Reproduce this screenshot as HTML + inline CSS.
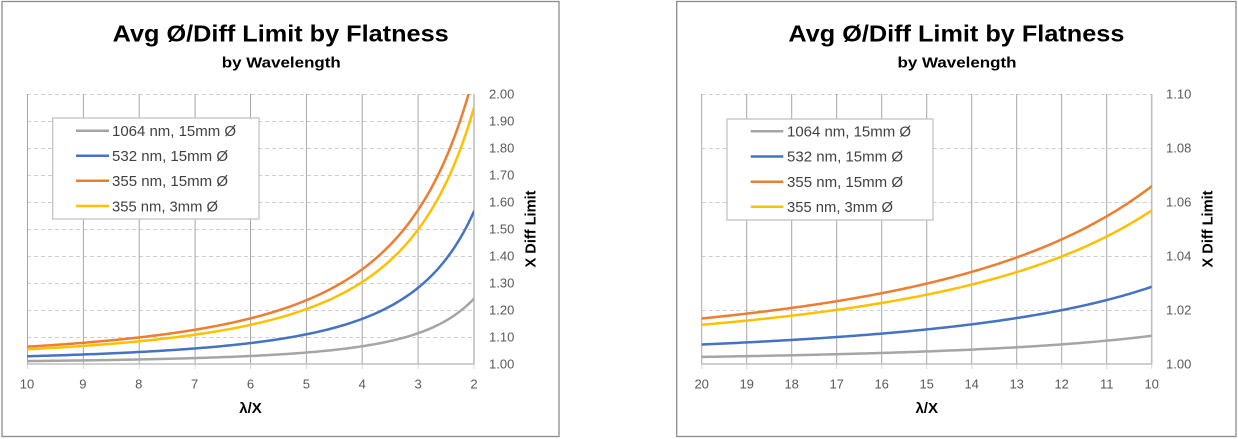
<!DOCTYPE html>
<html>
<head>
<meta charset="utf-8">
<style>
  html, body { margin: 0; padding: 0; background: #ffffff; }
  svg { display: block; }
  .ttl { font-family: "Liberation Sans", Arial, sans-serif; font-weight: bold; fill: #000; }
  .tick { font-family: "Liberation Sans", Arial, sans-serif; font-size: 13px; fill: #595959; }
  .leg { font-family: "Liberation Sans", Arial, sans-serif; font-size: 14.5px; fill: #404040; }
  .axt { font-family: "Liberation Sans", Arial, sans-serif; font-weight: bold; fill: #000; }
  .vg { stroke: #a6a6a6; stroke-width: 1; }
  .hg { stroke: #cfcfcf; stroke-width: 1; stroke-dasharray: 4 3; }
  .ax { stroke: #bfbfbf; stroke-width: 1.6; }
  .tk { stroke: #d9d9d9; stroke-width: 1; }
</style>
</head>
<body>
<svg id="s" width="1238" height="439" viewBox="0 0 1238 439" xmlns="http://www.w3.org/2000/svg">
  <defs>
    <clipPath id="cl"><rect x="27" y="94" width="447" height="270"/></clipPath>
    <clipPath id="cr"><rect x="701.7" y="94" width="450" height="270"/></clipPath>
  </defs>
  <rect x="0" y="0" width="1238" height="439" fill="#fff"/>

  <!-- ================= LEFT CHART ================= -->
  <rect x="2" y="1.5" width="557" height="435" fill="#fff" stroke="#8c8c8c" stroke-width="1.3"/>
  <text class="ttl" x="280.7" y="41.7" font-size="23" text-anchor="middle" textLength="336" lengthAdjust="spacingAndGlyphs">Avg Ø/Diff Limit by Flatness</text>
  <text class="ttl" x="281.3" y="67.7" font-size="14.5" text-anchor="middle" textLength="119" lengthAdjust="spacingAndGlyphs">by Wavelength</text>

  <!-- horizontal gridlines -->
  <g class="hg">
    <line x1="27" y1="94.5" x2="474" y2="94.5"/>
    <line x1="27" y1="121.5" x2="474" y2="121.5"/>
    <line x1="27" y1="148.5" x2="474" y2="148.5"/>
    <line x1="27" y1="175.5" x2="474" y2="175.5"/>
    <line x1="27" y1="202.5" x2="474" y2="202.5"/>
    <line x1="27" y1="229.5" x2="474" y2="229.5"/>
    <line x1="27" y1="256.5" x2="474" y2="256.5"/>
    <line x1="27" y1="283.5" x2="474" y2="283.5"/>
    <line x1="27" y1="310.5" x2="474" y2="310.5"/>
    <line x1="27" y1="337.5" x2="474" y2="337.5"/>
  </g>
  <!-- vertical gridlines -->
  <g class="vg">
    <line x1="27.5" y1="94" x2="27.5" y2="364"/>
    <line x1="83.4" y1="94" x2="83.4" y2="364"/>
    <line x1="139.2" y1="94" x2="139.2" y2="364"/>
    <line x1="195.1" y1="94" x2="195.1" y2="364"/>
    <line x1="250.5" y1="94" x2="250.5" y2="364"/>
    <line x1="306.4" y1="94" x2="306.4" y2="364"/>
    <line x1="362.2" y1="94" x2="362.2" y2="364"/>
    <line x1="418.1" y1="94" x2="418.1" y2="364"/>
  </g>
  <g class="tk">
    <line x1="27.5" y1="364" x2="27.5" y2="369"/>
    <line x1="83.4" y1="364" x2="83.4" y2="369"/>
    <line x1="139.2" y1="364" x2="139.2" y2="369"/>
    <line x1="195.1" y1="364" x2="195.1" y2="369"/>
    <line x1="250.5" y1="364" x2="250.5" y2="369"/>
    <line x1="306.4" y1="364" x2="306.4" y2="369"/>
    <line x1="362.2" y1="364" x2="362.2" y2="369"/>
    <line x1="418.1" y1="364" x2="418.1" y2="369"/>
    <line x1="474" y1="364" x2="474" y2="369"/>
  </g>
  <line class="ax" x1="27" y1="364" x2="474.5" y2="364"/>
  <line class="ax" x1="474" y1="94" x2="474" y2="364"/>

  <g id="curvesL" clip-path="url(#cl)" fill="none" stroke-width="2.5" stroke-linejoin="round" stroke-linecap="round"></g>

  <!-- y labels -->
  <g class="tick">
    <text x="489" y="98.5">2.00</text>
    <text x="489" y="125.5">1.90</text>
    <text x="489" y="152.5">1.80</text>
    <text x="489" y="179.5">1.70</text>
    <text x="489" y="206.5">1.60</text>
    <text x="489" y="233.5">1.50</text>
    <text x="489" y="260.5">1.40</text>
    <text x="489" y="287.5">1.30</text>
    <text x="489" y="314.5">1.20</text>
    <text x="489" y="341.5">1.10</text>
    <text x="489" y="368.5">1.00</text>
  </g>
  <!-- x labels -->
  <g class="tick" text-anchor="middle">
    <text x="27" y="388.5">10</text>
    <text x="82.9" y="388.5">9</text>
    <text x="138.8" y="388.5">8</text>
    <text x="194.6" y="388.5">7</text>
    <text x="250.5" y="388.5">6</text>
    <text x="306.4" y="388.5">5</text>
    <text x="362.3" y="388.5">4</text>
    <text x="418.1" y="388.5">3</text>
    <text x="474" y="388.5">2</text>
  </g>
  <text class="axt" x="250.5" y="413" font-size="15" text-anchor="middle">λ/X</text>
  <text class="axt" transform="translate(535.5,229) rotate(-90)" x="0" y="0" font-size="14.5" text-anchor="middle" textLength="77" lengthAdjust="spacingAndGlyphs">X Diff Limit</text>

  <!-- legend -->
  <rect x="52.7" y="118" width="206.3" height="101" fill="#fff" stroke="#bfbfbf" stroke-width="1.2"/>
  <line x1="76" y1="130.7" x2="109" y2="130.7" stroke="#a5a5a5" stroke-width="2.5"/>
  <line x1="76" y1="155.7" x2="109" y2="155.7" stroke="#4472c4" stroke-width="2.5"/>
  <line x1="76" y1="180.7" x2="109" y2="180.7" stroke="#ed7d31" stroke-width="2.5"/>
  <line x1="76" y1="206" x2="109" y2="206" stroke="#ffc000" stroke-width="2.5"/>
  <text class="leg" x="112" y="136" textLength="124" lengthAdjust="spacingAndGlyphs">1064 nm, 15mm Ø</text>
  <text class="leg" x="112" y="161" textLength="116" lengthAdjust="spacingAndGlyphs">532 nm, 15mm Ø</text>
  <text class="leg" x="112" y="186" textLength="116" lengthAdjust="spacingAndGlyphs">355 nm, 15mm Ø</text>
  <text class="leg" x="112" y="211.3" textLength="106" lengthAdjust="spacingAndGlyphs">355 nm, 3mm Ø</text>

  <!-- ================= RIGHT CHART ================= -->
  <rect x="676.7" y="1.5" width="559.3" height="435" fill="#fff" stroke="#8c8c8c" stroke-width="1.3"/>
  <text class="ttl" x="956.4" y="41.7" font-size="23" text-anchor="middle" textLength="336" lengthAdjust="spacingAndGlyphs">Avg Ø/Diff Limit by Flatness</text>
  <text class="ttl" x="957" y="67.7" font-size="14.5" text-anchor="middle" textLength="119" lengthAdjust="spacingAndGlyphs">by Wavelength</text>

  <g class="hg">
    <line x1="701.7" y1="94.5" x2="1151.7" y2="94.5"/>
    <line x1="701.7" y1="148.5" x2="1151.7" y2="148.5"/>
    <line x1="701.7" y1="202.5" x2="1151.7" y2="202.5"/>
    <line x1="701.7" y1="256.5" x2="1151.7" y2="256.5"/>
    <line x1="701.7" y1="310.5" x2="1151.7" y2="310.5"/>
  </g>
  <g class="vg">
    <line x1="701.7" y1="94" x2="701.7" y2="364"/>
    <line x1="746.7" y1="94" x2="746.7" y2="364"/>
    <line x1="791.7" y1="94" x2="791.7" y2="364"/>
    <line x1="836.7" y1="94" x2="836.7" y2="364"/>
    <line x1="881.7" y1="94" x2="881.7" y2="364"/>
    <line x1="926.7" y1="94" x2="926.7" y2="364"/>
    <line x1="971.7" y1="94" x2="971.7" y2="364"/>
    <line x1="1016.7" y1="94" x2="1016.7" y2="364"/>
    <line x1="1061.7" y1="94" x2="1061.7" y2="364"/>
    <line x1="1106.7" y1="94" x2="1106.7" y2="364"/>
  </g>
  <g class="tk">
    <line x1="701.7" y1="364" x2="701.7" y2="369"/>
    <line x1="746.7" y1="364" x2="746.7" y2="369"/>
    <line x1="791.7" y1="364" x2="791.7" y2="369"/>
    <line x1="836.7" y1="364" x2="836.7" y2="369"/>
    <line x1="881.7" y1="364" x2="881.7" y2="369"/>
    <line x1="926.7" y1="364" x2="926.7" y2="369"/>
    <line x1="971.7" y1="364" x2="971.7" y2="369"/>
    <line x1="1016.7" y1="364" x2="1016.7" y2="369"/>
    <line x1="1061.7" y1="364" x2="1061.7" y2="369"/>
    <line x1="1106.7" y1="364" x2="1106.7" y2="369"/>
    <line x1="1151.7" y1="364" x2="1151.7" y2="369"/>
  </g>
  <line class="ax" x1="701.7" y1="364" x2="1152.2" y2="364"/>
  <line class="ax" x1="1151.7" y1="94" x2="1151.7" y2="364"/>

  <g id="curvesR" clip-path="url(#cr)" fill="none" stroke-width="2.5" stroke-linejoin="round" stroke-linecap="round"></g>

  <g class="tick">
    <text x="1166" y="98.5">1.10</text>
    <text x="1166" y="152.5">1.08</text>
    <text x="1166" y="206.5">1.06</text>
    <text x="1166" y="260.5">1.04</text>
    <text x="1166" y="314.5">1.02</text>
    <text x="1166" y="368.5">1.00</text>
  </g>
  <g class="tick" text-anchor="middle">
    <text x="701.7" y="388.5">20</text>
    <text x="746.7" y="388.5">19</text>
    <text x="791.7" y="388.5">18</text>
    <text x="836.7" y="388.5">17</text>
    <text x="881.7" y="388.5">16</text>
    <text x="926.7" y="388.5">15</text>
    <text x="971.7" y="388.5">14</text>
    <text x="1016.7" y="388.5">13</text>
    <text x="1061.7" y="388.5">12</text>
    <text x="1106.7" y="388.5">11</text>
    <text x="1151.7" y="388.5">10</text>
  </g>
  <text class="axt" x="926.7" y="413" font-size="15" text-anchor="middle">λ/X</text>
  <text class="axt" transform="translate(1212.5,229) rotate(-90)" x="0" y="0" font-size="14.5" text-anchor="middle" textLength="77" lengthAdjust="spacingAndGlyphs">X Diff Limit</text>

  <rect x="727" y="119" width="206" height="101" fill="#fff" stroke="#bfbfbf" stroke-width="1.2"/>
  <line x1="750.7" y1="131.2" x2="783.3" y2="131.2" stroke="#a5a5a5" stroke-width="2.5"/>
  <line x1="750.7" y1="156.5" x2="783.3" y2="156.5" stroke="#4472c4" stroke-width="2.5"/>
  <line x1="750.7" y1="181.7" x2="783.3" y2="181.7" stroke="#ed7d31" stroke-width="2.5"/>
  <line x1="750.7" y1="206.7" x2="783.3" y2="206.7" stroke="#ffc000" stroke-width="2.5"/>
  <text class="leg" x="787" y="136.5" textLength="124" lengthAdjust="spacingAndGlyphs">1064 nm, 15mm Ø</text>
  <text class="leg" x="787" y="161.7" textLength="116" lengthAdjust="spacingAndGlyphs">532 nm, 15mm Ø</text>
  <text class="leg" x="787" y="186.9" textLength="116" lengthAdjust="spacingAndGlyphs">355 nm, 15mm Ø</text>
  <text class="leg" x="787" y="212" textLength="106" lengthAdjust="spacingAndGlyphs">355 nm, 3mm Ø</text>
</svg>
<script>
(function(){
  var NS = "http://www.w3.org/2000/svg";
  var colors = ["#a5a5a5", "#4472c4", "#ed7d31", "#ffc000"];
  function build(gid, bs, x0, x1, X, Y) {
    var g = document.getElementById(gid);
    for (var s = 0; s < bs.length; s++) {
      var d = "";
      var n = 160;
      for (var i = 0; i <= n; i++) {
        var x = x0 + (x1 - x0) * i / n;
        var v = Math.sqrt(1 + bs[s] / (x * x));
        var px = X(x), py = Y(v);
        d += (i === 0 ? "M" : "L") + px.toFixed(2) + " " + py.toFixed(2);
      }
      var p = document.createElementNS(NS, "path");
      p.setAttribute("d", d);
      p.setAttribute("stroke", colors[s]);
      g.appendChild(p);
    }
  }
  build("curvesL", [2.17, 5.8, 13.2, 11.2], 10, 2,
        function(x){ return 27 + (10 - x) * 55.875; },
        function(v){ return 364 - (v - 1) * 270; });
  build("curvesR", [2.1, 5.8, 13.6, 11.7], 20, 10,
        function(x){ return 701.7 + (20 - x) * 45; },
        function(v){ return 364 - (v - 1) * 2700; });
})();
</script>
</body>
</html>
